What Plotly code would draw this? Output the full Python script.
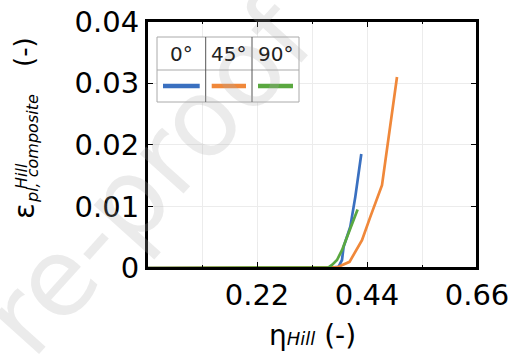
import plotly.graph_objects as go

# ---- data ----
x_0deg = [0.0, 0.1, 0.2, 0.3, 0.36, 0.383, 0.39, 0.3932, 0.4066, 0.4166, 0.4286]
y_0deg = [0.0, 0.0, 0.0, 0.0, 0.0, 0.0002, 0.0013, 0.00345, 0.0067, 0.01155, 0.0185]

x_45deg = [0.0, 0.1, 0.2, 0.3, 0.37, 0.38, 0.405, 0.43, 0.4466, 0.47, 0.50]
y_45deg = [0.0, 0.0, 0.0, 0.0, 0.0, 0.0001, 0.001, 0.0045, 0.0083, 0.01344, 0.031]

x_90deg = [0.0, 0.1, 0.2, 0.3, 0.35, 0.363, 0.37, 0.38, 0.39, 0.40, 0.41, 0.4212]
y_90deg = [0.0, 0.0, 0.0, 0.0, 0.0, 0.0001, 0.0005, 0.0013, 0.0029, 0.0051, 0.0072, 0.0095]

series_names = ["0°", "45°", "90°"]
series_colors = ["#3a70c0", "#f0883a", "#5aa840"]

x_ticks = [0.22, 0.44, 0.66]
x_ticktext = ["0.22", "0.44", "0.66"]
x_minor = [0.11, 0.33, 0.55]
y_ticks = [0, 0.01, 0.02, 0.03, 0.04]
y_ticktext = ["0", "0.01", "0.02", "0.03", "0.04"]

FONT = "DejaVu Sans"

fig = go.Figure()
for xs, ys, name, col in zip([x_0deg, x_45deg, x_90deg], [y_0deg, y_45deg, y_90deg],
                             series_names, series_colors):
    fig.add_trace(go.Scatter(x=xs, y=ys, mode="lines", name=name,
                             line=dict(color=col, width=2.7), showlegend=False))

W, H = 520, 354
# plot area in screen pixels: x 147..477, y 21..268
ml, mt = 147, 21
mr, mb = W - 477, H - 268
pw, ph = W - ml - mr, H - mt - mb


def px(xs):
    return (xs - ml) / pw


def py(ys):
    return (H - mb - ys) / ph


annotations = []
# watermark
annotations.append(dict(text="re-proof", x=px(148), y=py(176), xref="paper", yref="paper",
                        showarrow=False, textangle=-48, xanchor="center", yanchor="middle",
                        font=dict(family=FONT, size=108, color="rgba(170,170,170,0.24)")))

shapes = []
# plot frame
shapes.append(dict(type="rect", xref="paper", yref="paper", x0=0, x1=1, y0=0, y1=1,
                   line=dict(color="black", width=2), layer="above"))

# custom legend table
lx0, lx1 = px(157), px(299)
ly0, ly1, lym = py(102), py(37), py(70)
cols = [px(157), px(205.7), px(252), px(299)]
shapes.append(dict(type="rect", xref="paper", yref="paper", x0=lx0, x1=lx1, y0=ly0, y1=ly1,
                   line=dict(color="#aaaaaa", width=1), fillcolor="white", layer="above"))
shapes.append(dict(type="line", xref="paper", yref="paper", x0=lx0, x1=lx1, y0=lym, y1=lym,
                   line=dict(color="#aaaaaa", width=1), layer="above"))
for cx in cols[1:3]:
    shapes.append(dict(type="line", xref="paper", yref="paper", x0=cx, x1=cx, y0=ly0, y1=ly1,
                       line=dict(color="#555555", width=1), layer="above"))
pad = px(163) - px(157)
for i, (name, col) in enumerate(zip(series_names, series_colors)):
    c0, c1 = cols[i], cols[i + 1]
    annotations.append(dict(text=name, x=(c0 + c1) / 2, y=py(54), xref="paper", yref="paper",
                            showarrow=False, xanchor="center", yanchor="middle",
                            font=dict(family=FONT, size=20, color="#222222")))
    shapes.append(dict(type="line", xref="paper", yref="paper",
                       x0=c0 + pad, x1=c1 - pad,
                       y0=py(86), y1=py(86), line=dict(color=col, width=4.5), layer="above"))

# x title
annotations.append(dict(text='η<span style="font-size:18px"><i>Hill</i></span> (-)',
                        x=0.5, y=py(335), xref="paper", yref="paper", showarrow=False,
                        xanchor="center", yanchor="middle",
                        font=dict(family=FONT, size=28, color="black")))
# y title pieces
annotations.append(dict(text="ε", x=px(24), y=py(211), xref="paper", yref="paper",
                        showarrow=False, textangle=-90, xanchor="center", yanchor="middle",
                        font=dict(family=FONT, size=29, color="black")))
annotations.append(dict(text="<i>Hill</i>", x=px(21), y=py(176), xref="paper", yref="paper",
                        showarrow=False, textangle=-90, xanchor="center", yanchor="middle",
                        font=dict(family=FONT, size=16, color="black")))
annotations.append(dict(text="<i>pl, composite</i>", x=px(32), y=py(148), xref="paper",
                        yref="paper", showarrow=False, textangle=-90, xanchor="center",
                        yanchor="middle", font=dict(family=FONT, size=16, color="black")))
annotations.append(dict(text="(-)", x=px(24), y=py(52), xref="paper", yref="paper",
                        showarrow=False, textangle=-90, xanchor="center", yanchor="middle",
                        font=dict(family=FONT, size=26, color="black")))

grid_col = "#ececec"
fig.update_layout(
    width=W, height=H,
    margin=dict(l=ml, r=mr, t=mt, b=mb, pad=0, autoexpand=False),
    paper_bgcolor="white", plot_bgcolor="white",
    font=dict(family=FONT, size=29, color="black"),
    xaxis=dict(range=[0, 0.66], tickmode="array", tickvals=x_ticks, ticktext=x_ticktext,
               automargin=False,
               showline=True, linecolor="black", linewidth=2, mirror="ticks",
               ticks="inside", ticklen=6, tickwidth=1, tickcolor="black",
               showgrid=True, gridcolor=grid_col, gridwidth=1, zeroline=False,
               tickfont=dict(family=FONT, size=29, color="black"),
               minor=dict(tickmode="array", tickvals=x_minor, ticks="inside", ticklen=3,
                          tickcolor="black", showgrid=True, gridcolor=grid_col)),
    yaxis=dict(range=[0, 0.0401], tickmode="array", tickvals=y_ticks, ticktext=y_ticktext,
               automargin=False,
               showline=True, linecolor="black", linewidth=2, mirror="ticks",
               ticks="inside", ticklen=6, tickwidth=1, tickcolor="black",
               showgrid=True, gridcolor=grid_col, gridwidth=1, zeroline=False,
               tickfont=dict(family=FONT, size=29, color="black")),
    shapes=shapes,
    annotations=annotations,
)

fig.write_html("out.html", config={"displayModeBar": False},
               post_script="document.body.style.margin='0';document.body.style.padding='0';")
